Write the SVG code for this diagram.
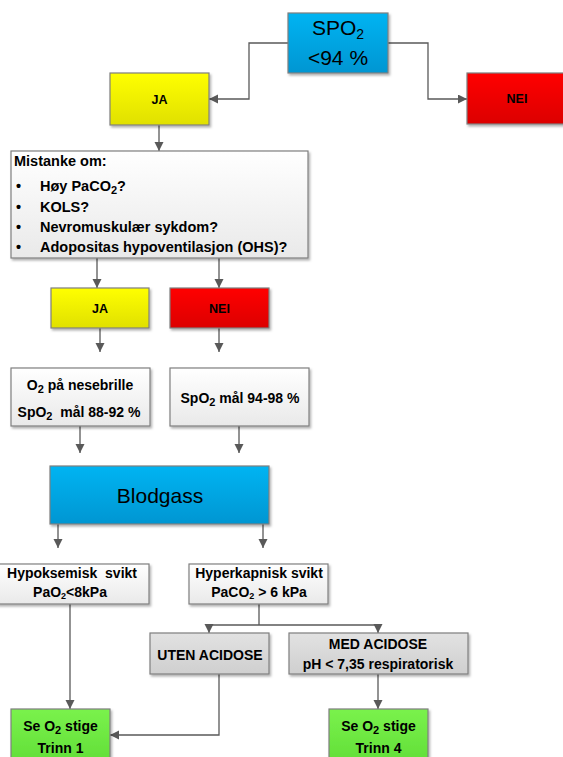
<svg xmlns="http://www.w3.org/2000/svg" width="563" height="757" viewBox="0 0 563 757">
<style>
text{font-family:"Liberation Sans",Arial,sans-serif;fill:#000;font-weight:bold;font-size:14px;text-anchor:middle}
.big{font-weight:normal;font-size:21px}
.lbl{font-size:12.5px}
.left{text-anchor:start;font-size:14.5px}
.box{stroke:#7f7f7f;stroke-width:1.2;filter:url(#sh)}
.conn{fill:none;stroke:#595959;stroke-width:1.3}
</style>
<defs>
<filter id="sh" x="-10%" y="-10%" width="130%" height="140%">
<feDropShadow dx="1.5" dy="2" stdDeviation="1.2" flood-color="#000" flood-opacity="0.3"/>
</filter>
<linearGradient id="gBlue" x1="0" y1="0" x2="0" y2="1"><stop offset="0" stop-color="#00b4f2"/><stop offset="1" stop-color="#0096d2"/></linearGradient>
<linearGradient id="gYel" x1="0" y1="0" x2="0" y2="1"><stop offset="0" stop-color="#ffff00"/><stop offset="1" stop-color="#e0e000"/></linearGradient>
<linearGradient id="gRed" x1="0" y1="0" x2="0" y2="1"><stop offset="0" stop-color="#ff0000"/><stop offset="1" stop-color="#dc0000"/></linearGradient>
<linearGradient id="gWhite" x1="0" y1="0" x2="0" y2="1"><stop offset="0" stop-color="#ffffff"/><stop offset="1" stop-color="#e9e9e9"/></linearGradient>
<linearGradient id="gGray" x1="0" y1="0" x2="0" y2="1"><stop offset="0" stop-color="#e2e2e2"/><stop offset="1" stop-color="#cfcfcf"/></linearGradient>
<linearGradient id="gGreen" x1="0" y1="0" x2="0" y2="1"><stop offset="0" stop-color="#7af24c"/><stop offset="1" stop-color="#5fdc36"/></linearGradient>
<marker id="arr" markerUnits="userSpaceOnUse" markerWidth="10" markerHeight="10" refX="9" refY="4.5" orient="auto">
<path d="M0,0 L9,4.5 L0,9 z" fill="#595959"/>
</marker>
</defs>

<g id="connectors">
<path class="conn" d="M288,43 H249 V99 H209" marker-end="url(#arr)"/>
<path class="conn" d="M388,43 H428 V99 H467" marker-end="url(#arr)"/>
<path class="conn" d="M159,125 V151" marker-end="url(#arr)"/>
<path class="conn" d="M97,258 V288" marker-end="url(#arr)"/>
<path class="conn" d="M219,258 V288" marker-end="url(#arr)"/>
<path class="conn" d="M100,328 V352" marker-end="url(#arr)"/>
<path class="conn" d="M219,328 V352" marker-end="url(#arr)"/>
<path class="conn" d="M80,426 V453" marker-end="url(#arr)"/>
<path class="conn" d="M239,426 V453" marker-end="url(#arr)"/>
<path class="conn" d="M58,524 V548" marker-end="url(#arr)"/>
<path class="conn" d="M263,524 V548" marker-end="url(#arr)"/>
<path class="conn" d="M70,604 V709" marker-end="url(#arr)"/>
<path class="conn" d="M259,604 V625 M209,625 H378"/>
<path class="conn" d="M209,625 V633" marker-end="url(#arr)"/>
<path class="conn" d="M378,625 V633" marker-end="url(#arr)"/>
<path class="conn" d="M219,674 V735 H110" marker-end="url(#arr)"/>
<path class="conn" d="M378,674 V709" marker-end="url(#arr)"/>
</g>

<g id="spo2">
<rect class="box" x="288" y="13" width="100" height="60" fill="url(#gBlue)" stroke="#5a7d92"/>
<text class="big" x="338" y="35">SPO<tspan font-size="14" dy="4">2</tspan></text>
<text class="big" x="338" y="65">&lt;94 %</text>
</g>

<g id="ja1">
<rect class="box" x="110" y="73" width="99" height="52" fill="url(#gYel)"/>
<text class="lbl" x="159.5" y="104">JA</text>
</g>

<g id="nei1">
<rect class="box" x="467" y="73" width="104" height="51" fill="url(#gRed)"/>
<text class="lbl" x="517" y="103">NEI</text>
</g>

<g id="mistanke">
<rect class="box" x="11" y="151" width="297" height="107" fill="url(#gWhite)"/>
<text class="left" x="14" y="166">Mistanke om:</text>
<text class="left" x="16" y="191">•</text>
<text class="left" x="40" y="191">Høy PaCO<tspan font-size="11" dy="3">2</tspan><tspan dy="-3">?</tspan></text>
<text class="left" x="16" y="212">•</text>
<text class="left" x="40" y="212">KOLS?</text>
<text class="left" x="16" y="232">•</text>
<text class="left" x="40" y="232">Nevromuskulær sykdom?</text>
<text class="left" x="16" y="252">•</text>
<text class="left" x="40" y="252">Adopositas hypoventilasjon (OHS)?</text>
</g>

<g id="ja2">
<rect class="box" x="51" y="288" width="98" height="40" fill="url(#gYel)"/>
<text class="lbl" x="100" y="313">JA</text>
</g>

<g id="nei2">
<rect class="box" x="170" y="288" width="99" height="40" fill="url(#gRed)"/>
<text class="lbl" x="219.5" y="313">NEI</text>
</g>

<g id="o2nese">
<rect class="box" x="11" y="368" width="139" height="58" fill="url(#gWhite)"/>
<text x="80" y="390">O<tspan font-size="11" dy="3">2</tspan><tspan dy="-3"> på nesebrille</tspan></text>
<text x="79" y="417">SpO<tspan font-size="11" dy="3">2</tspan><tspan dy="-3">&#160; mål 88-92 %</tspan></text>
</g>

<g id="spo2mal">
<rect class="box" x="170" y="368" width="139" height="58" fill="url(#gWhite)"/>
<text x="240" y="403">SpO<tspan font-size="11" dy="3">2</tspan><tspan dy="-3"> mål 94-98 %</tspan></text>
</g>

<g id="blodgass">
<rect class="box" x="50" y="466" width="219" height="58" fill="url(#gBlue)" stroke="#5a7d92"/>
<text class="big" x="160" y="503" font-size="22">Blodgass</text>
</g>

<g id="hypoksemisk">
<rect class="box" x="-3" y="564" width="152" height="40" fill="url(#gWhite)"/>
<text x="72" y="578">Hypoksemisk&#160; svikt</text>
<text x="70" y="597">PaO<tspan font-size="9" dy="2">2</tspan><tspan dy="-2">&lt;8kPa</tspan></text>
</g>

<g id="hyperkapnisk">
<rect class="box" x="189" y="564" width="139" height="40" fill="url(#gWhite)"/>
<text x="259" y="578">Hyperkapnisk svikt</text>
<text x="259" y="597">PaCO<tspan font-size="9" dy="2">2</tspan><tspan dy="-2"> &gt; 6 kPa</tspan></text>
</g>

<g id="uten">
<rect class="box" x="150" y="633" width="119" height="41" fill="url(#gGray)"/>
<text x="210" y="660">UTEN ACIDOSE</text>
</g>

<g id="med">
<rect class="box" x="289" y="633" width="179" height="41" fill="url(#gGray)"/>
<text x="378" y="649">MED ACIDOSE</text>
<text x="378" y="669">pH &lt; 7,35 respiratorisk</text>
</g>

<g id="trinn1">
<rect class="box" x="11" y="709" width="99" height="60" fill="url(#gGreen)"/>
<text x="60.5" y="731">Se O<tspan font-size="11" dy="3">2</tspan><tspan dy="-3"> stige</tspan></text>
<text x="60.5" y="753">Trinn 1</text>
</g>

<g id="trinn4">
<rect class="box" x="329" y="709" width="99" height="60" fill="url(#gGreen)"/>
<text x="378.5" y="731">Se O<tspan font-size="11" dy="3">2</tspan><tspan dy="-3"> stige</tspan></text>
<text x="378.5" y="753">Trinn 4</text>
</g>
</svg>
